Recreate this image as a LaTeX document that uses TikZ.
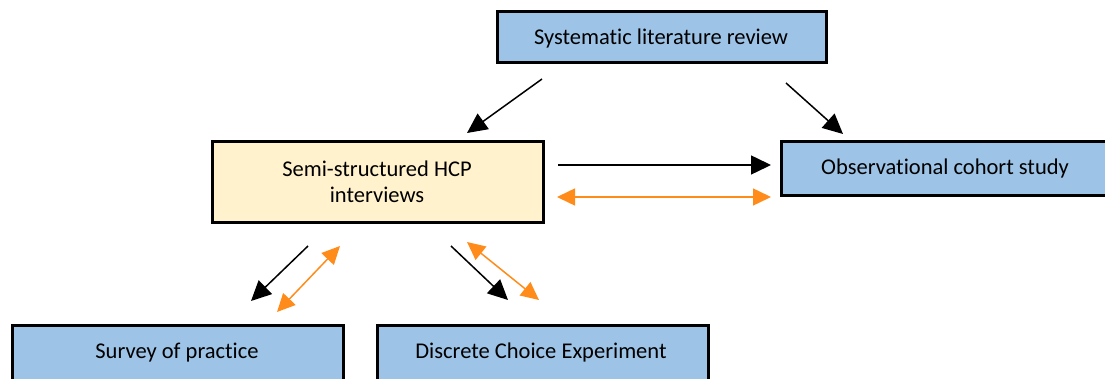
\documentclass[tikz,border=0pt]{standalone}
\usepackage{fontspec}
\setmainfont{Carlito}[Ligatures=NoCommon]
\usetikzlibrary{arrows.meta}
\definecolor{boxblue}{HTML}{9DC3E6}
\definecolor{boxcream}{HTML}{FFF2CC}
\definecolor{linkorange}{HTML}{FF8C1A}
\begin{document}
\begin{tikzpicture}[x=1pt,y=-1pt,
  stagebox/.style={draw=black,line width=3pt,fill=boxblue,inner sep=0pt},
  blacklink/.style={draw=black,line width=1.5pt,-{Triangle[length=20pt,width=19pt]}},
  orangelink/.style={draw=linkorange,line width=1.5pt,{Triangle[length=18pt,width=17pt]}-{Triangle[length=18pt,width=17pt]}},
  label/.style={font=\fontsize{22.5}{26}\selectfont,align=center,text=black}]
\useasboundingbox (0,0) rectangle (1105,379);
\clip (0,0) rectangle (1105,379);
% boxes
\draw[stagebox] (497,12) rectangle (826,63);
\draw[stagebox,fill=boxcream] (212,142) rectangle (543,223);
\draw[stagebox] (781,142) rectangle (1115,196);
\draw[stagebox] (12,325) rectangle (343,385);
\draw[stagebox] (377,325) rectangle (708,385);
% labels
\node[label] (slr) at (661,39) {Systematic literature review};
\node[label] (hcp) at (377,182) {Semi-structured HCP\\interviews};
\node[label] (obs) at (945,169) {Observational cohort study};
\node[label] (sop) at (177,352.5) {Survey of practice};
\node[label] (dce) at (541,352.5) {Discrete Choice Experiment};
% connector anchor points
\coordinate (a1s) at (542,79);  \coordinate (a1e) at (467,133);
\coordinate (a2s) at (786,83);  \coordinate (a2e) at (843,134);
\coordinate (a3s) at (558,165); \coordinate (a3e) at (771,165);
\coordinate (a4s) at (557,197); \coordinate (a4e) at (771,197);
\coordinate (a5s) at (308,246); \coordinate (a5e) at (251,301);
\coordinate (a6s) at (340,246); \coordinate (a6e) at (277,312);
\coordinate (a7s) at (451,246); \coordinate (a7e) at (508,300);
\coordinate (a8s) at (467,242); \coordinate (a8e) at (539,300);
% connectors
\draw[blacklink] (a1s) -- (a1e);
\draw[blacklink] (a2s) -- (a2e);
\draw[blacklink] (a3s) -- (a3e);
\draw[orangelink] (a4s) -- (a4e);
\draw[blacklink] (a5s) -- (a5e);
\draw[orangelink] (a6s) -- (a6e);
\draw[blacklink] (a7s) -- (a7e);
\draw[orangelink] (a8s) -- (a8e);
\end{tikzpicture}
\end{document}
